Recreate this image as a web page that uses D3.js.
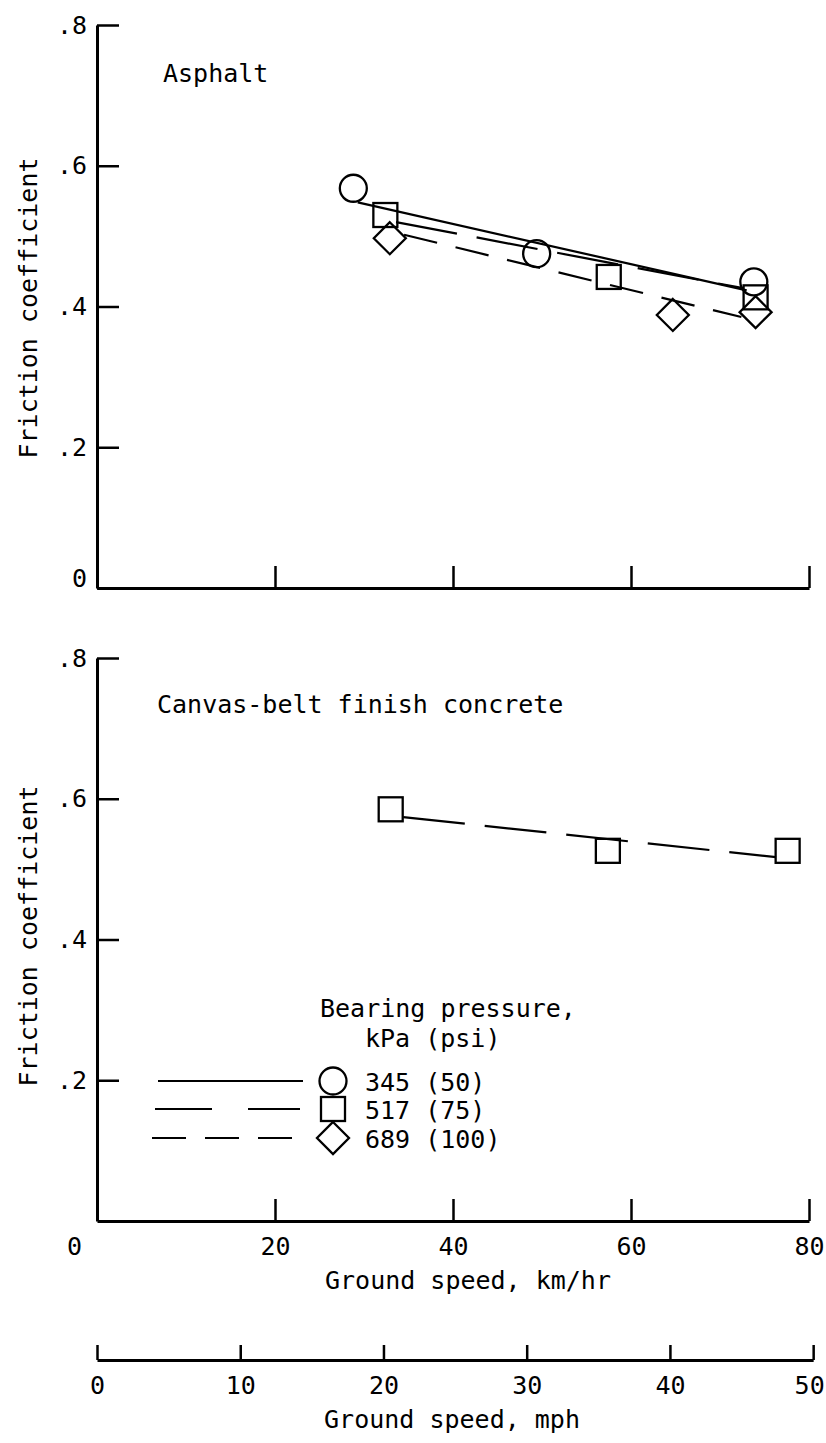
<!DOCTYPE html>
<html>
<head>
<meta charset="utf-8">
<script src="https://cdn.jsdelivr.net/npm/d3@7"></script>
<style>
  body { margin: 0; background: #fff; }
  text { font-family: "DejaVu Sans Mono", "Liberation Mono", monospace; fill: #000; }
</style>
</head>
<body>
<svg id="chart" width="826" height="1443"></svg>
<script>
// ---------- data ----------
const kmTicks = [0, 20, 40, 60, 80];
const mphTicks = [0, 10, 20, 30, 40, 50];
const yTicks = [0, 0.2, 0.4, 0.6, 0.8];
const yTickLabels = ["0", ".2", ".4", ".6", ".8"];
const legendLabels = ["345 (50)", "517 (75)", "689 (100)"];

// Asphalt – measured points
const asphalt345Speed = [28.8, 49.4, 73.8];
const asphalt345Friction = [0.568, 0.475, 0.435];
const asphalt517Speed = [32.4, 57.5, 74.0];
const asphalt517Friction = [0.530, 0.442, 0.413];
const asphalt689Speed = [32.9, 64.7, 74.0];
const asphalt689Friction = [0.497, 0.388, 0.392];
// Asphalt – faired lines
const asphalt345FitSpeed = [29.3, 73.0];
const asphalt345FitFriction = [0.548, 0.423];
const asphalt517FitSpeed = [33.6, 72.6];
const asphalt517FitFriction = [0.520, 0.426];
const asphalt689FitSpeed = [34.5, 72.4];
const asphalt689FitFriction = [0.502, 0.385];

// Canvas-belt finish concrete – 517 kPa only
const concrete517Speed = [33.0, 57.4, 77.6];
const concrete517Friction = [0.585, 0.526, 0.526];
const concrete517FitSpeed = [34.4, 76.3];
const concrete517FitFriction = [0.574, 0.517];

// ---------- setup ----------
const svg = d3.select("#chart");
const FS = 25;
const x = d3.scaleLinear().domain([0, 80]).range([97, 809]);
const xMph = d3.scaleLinear().domain([0, 50]).range([x(0), x(50 * 1.609344)]);
const yTop = d3.scaleLinear().domain([0, 0.8]).range([588, 25]);
const yBot = d3.scaleLinear().domain([0, 0.8]).range([1221, 658]);

const styles = {
  "345": { dash: null, shape: "circle" },
  "517": { dash: "62,20", shape: "square" },
  "689": { dash: "34,19", shape: "diamond" }
};

function styleAxis(g) {
  g.select(".domain").attr("stroke", "#000").attr("stroke-width", 3);
  g.selectAll(".tick line").attr("stroke", "#000").attr("stroke-width", 2.5);
  g.selectAll(".tick text").attr("font-size", FS).attr("font-family", "DejaVu Sans Mono").attr("fill", "#000");
}

function drawMarker(g, shape, cx, cy) {
  if (shape === "circle") {
    g.append("circle").attr("cx", cx).attr("cy", cy).attr("r", 13.5)
      .attr("fill", "none").attr("stroke", "#000").attr("stroke-width", 2.3);
  } else if (shape === "square") {
    const s = 24;
    g.append("rect").attr("x", cx - s / 2).attr("y", cy - s / 2).attr("width", s).attr("height", s)
      .attr("fill", "none").attr("stroke", "#000").attr("stroke-width", 2.3);
  } else {
    const h = 16;
    g.append("path").attr("d", `M${cx},${cy - h}L${cx + h},${cy}L${cx},${cy + h}L${cx - h},${cy}Z`)
      .attr("fill", "none").attr("stroke", "#000").attr("stroke-width", 2.3);
  }
}

function drawPanel(y, opts) {
  const g = svg.append("g");
  const xa = g.append("g").attr("transform", `translate(0,${y(0)})`)
    .call(d3.axisBottom(x).tickValues(kmTicks).tickSizeInner(-22).tickSizeOuter(0).tickPadding(16)
      .tickFormat(opts.xLabels ? d3.format("d") : () => ""));
  styleAxis(xa);
  if (opts.xLabels) {
    xa.selectAll(".tick text").filter(d => d === 0).attr("x", -23);
  }
  const yv = opts.yZero ? yTicks : yTicks.slice(1);
  const ya = g.append("g").attr("transform", `translate(${x(0)},0)`)
    .call(d3.axisLeft(y).tickValues(yv).tickSizeInner(-22).tickSizeOuter(0).tickPadding(10)
      .tickFormat(d => yTickLabels[yTicks.indexOf(d)]));
  styleAxis(ya);
  ya.selectAll(".tick text").filter(d => d === 0).attr("dy", "-0.05em");
  g.append("text")
    .attr("transform", `translate(${opts.titleX},${opts.titleY}) rotate(-90)`)
    .attr("text-anchor", "middle").attr("font-size", FS)
    .text("Friction coefficient");
  return g;
}

function drawSeries(g, y, key, spd, fr, fitSpd, fitFr) {
  const st = styles[key];
  const line = d3.line().x(d => x(d[0])).y(d => y(d[1]));
  g.append("path").datum(d3.zip(fitSpd, fitFr)).attr("d", line)
    .attr("fill", "none").attr("stroke", "#000").attr("stroke-width", 2.2)
    .attr("stroke-dasharray", st.dash);
  d3.zip(spd, fr).forEach(([s, f]) => drawMarker(g, st.shape, x(s), y(f)));
}

// ---------- top panel: asphalt ----------
const topPanel = drawPanel(yTop, { xLabels: false, yZero: true, titleX: 37, titleY: 308 });
topPanel.append("text").attr("x", 163).attr("y", 82).attr("font-size", FS).text("Asphalt");
drawSeries(topPanel, yTop, "345", asphalt345Speed, asphalt345Friction, asphalt345FitSpeed, asphalt345FitFriction);
drawSeries(topPanel, yTop, "517", asphalt517Speed, asphalt517Friction, asphalt517FitSpeed, asphalt517FitFriction);
drawSeries(topPanel, yTop, "689", asphalt689Speed, asphalt689Friction, asphalt689FitSpeed, asphalt689FitFriction);

// ---------- bottom panel: concrete ----------
const botPanel = drawPanel(yBot, { xLabels: true, yZero: false, titleX: 37, titleY: 936 });
botPanel.append("text").attr("x", 157).attr("y", 713).attr("font-size", FS).text("Canvas-belt finish concrete");
drawSeries(botPanel, yBot, "517", concrete517Speed, concrete517Friction, concrete517FitSpeed, concrete517FitFriction);

svg.append("text").attr("x", 468).attr("y", 1289).attr("text-anchor", "middle")
  .attr("font-size", FS).text("Ground speed, km/hr");

const mphG = svg.append("g").attr("transform", "translate(0,1360)")
  .call(d3.axisBottom(xMph).tickValues(mphTicks).tickSizeInner(-15).tickSizeOuter(0).tickPadding(16)
    .tickFormat(d3.format("d")));
styleAxis(mphG);
mphG.selectAll(".tick text").filter(d => d === 50).attr("x", -4);
svg.append("text").attr("x", 452).attr("y", 1428).attr("text-anchor", "middle")
  .attr("font-size", FS).text("Ground speed, mph");

// ---------- legend ----------
const leg = svg.append("g");
leg.append("text").attr("x", 320).attr("y", 1017).attr("font-size", FS).text("Bearing pressure,");
leg.append("text").attr("x", 365).attr("y", 1047).attr("font-size", FS).text("kPa (psi)");
const legKeys = ["345", "517", "689"];
const legLineX = [[158, 303], [155, 300], [152, 295]];
const legRowY = [1081, 1109, 1138];
const legDash = [null, "57,36", "34,19"];
legKeys.forEach((k, i) => {
  leg.append("line").attr("x1", legLineX[i][0]).attr("x2", legLineX[i][1])
    .attr("y1", legRowY[i]).attr("y2", legRowY[i])
    .attr("stroke", "#000").attr("stroke-width", 2.2).attr("stroke-dasharray", legDash[i]);
  drawMarker(leg, styles[k].shape, 333, legRowY[i]);
  leg.append("text").attr("x", 365).attr("y", legRowY[i] + 10).attr("font-size", FS).text(legendLabels[i]);
});
</script>
</body>
</html>
